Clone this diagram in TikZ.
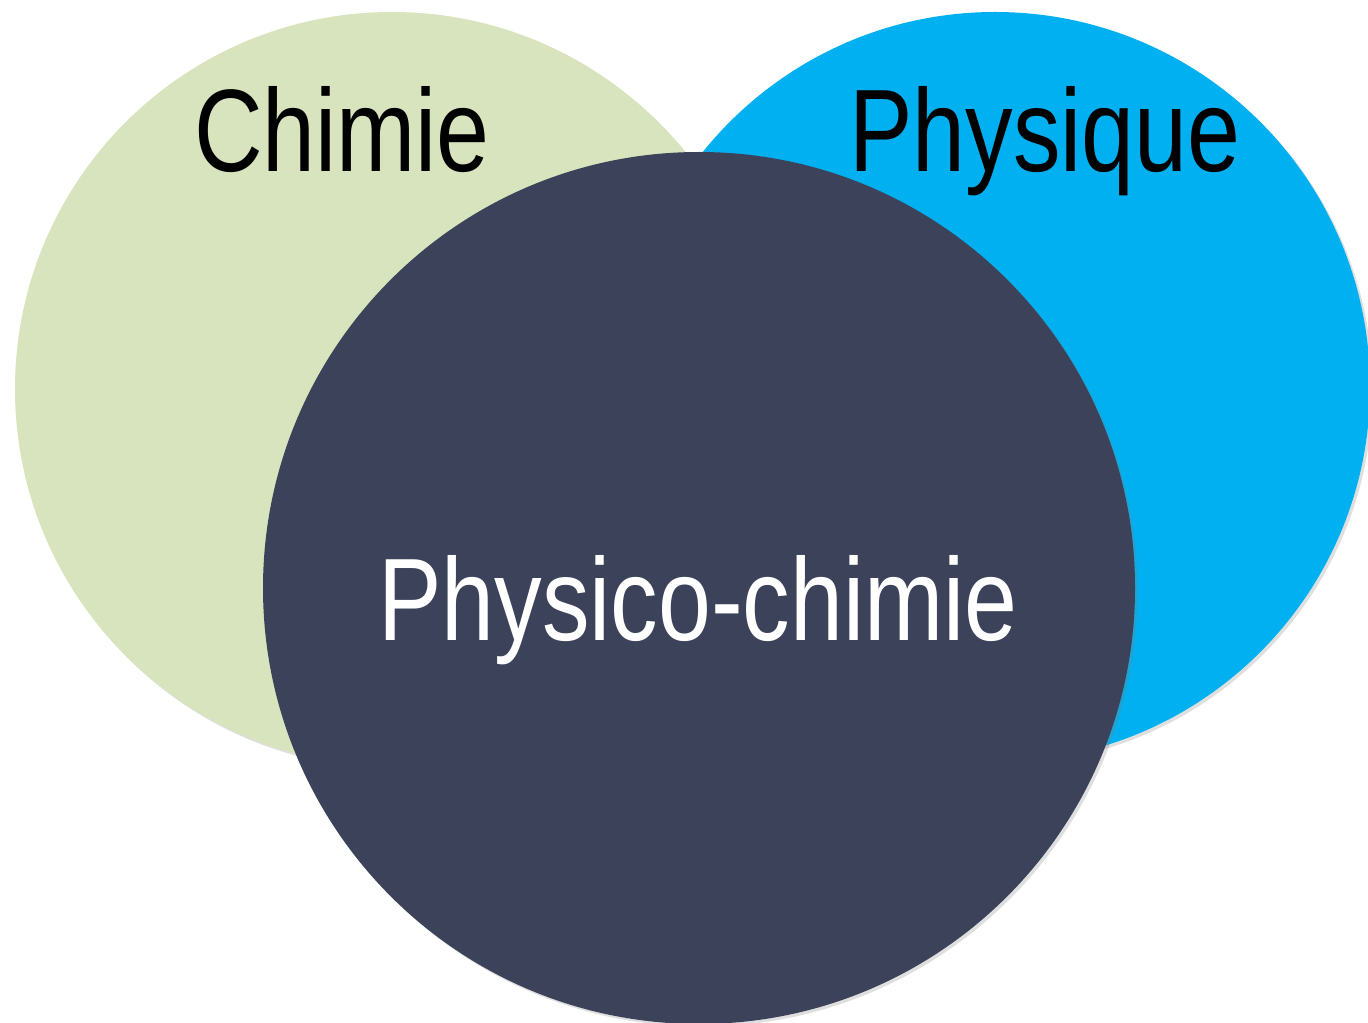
\documentclass[tikz,border=0pt]{standalone}
\usepackage{fontspec}
\setmainfont{Liberation Sans}
\usetikzlibrary{shadows}
\definecolor{chimiegreen}{HTML}{D7E4BD}
\definecolor{physblue}{HTML}{00B0F0}
\definecolor{pcdark}{HTML}{3B4259}

\begin{document}
\begin{tikzpicture}[x=0.02cm, y=-0.02cm,
	disc/.style={draw=none, drop shadow={opacity=0.25, shadow xshift=1.5pt, shadow yshift=-1.5pt}},
	label/.style={font=\fontsize{66.8}{80}\selectfont, xscale=0.81, anchor=base, inner sep=0pt}]
	\useasboundingbox (0,0) rectangle (1368,1023);
	% the three fields
	\fill[chimiegreen, disc] (392,389) circle (377);
	\fill[physblue, disc] (995,387) circle (375);
	\fill[pcdark, disc] (699,588) circle (436);
	% labels
	\node[label, text=black] (chimie) at (342,172) {Chimie};
	\node[label, text=black] (physique) at (1045,172) {Physique};
	\node[label, text=white] (physchim) at (698,640) {Physico-chimie};
\end{tikzpicture}
\end{document}
